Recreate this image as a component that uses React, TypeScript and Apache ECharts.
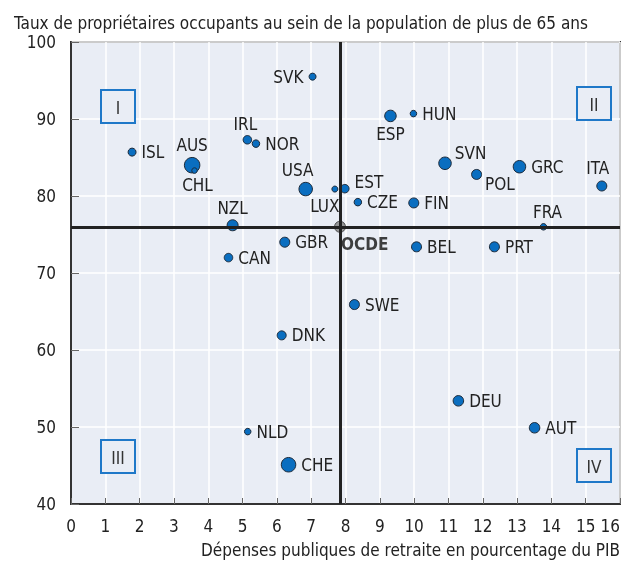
import React, { useEffect, useRef } from "react";
import * as echarts from "echarts";

const FONT = "'DejaVu Sans Condensed', 'Liberation Sans Narrow', sans-serif";
const FS = 17;

const countries = ["SVK", "ISL", "AUS", "CHL", "IRL", "NOR", "USA", "LUX", "NZL", "ESP", "HUN", "SVN", "POL", "GRC", "ITA", "EST", "CZE", "FIN", "FRA", "GBR", "CAN", "DNK", "BEL", "PRT", "SWE", "NLD", "CHE", "DEU", "AUT"];
const pensionSpending = [7.04, 1.78, 3.53, 3.6, 5.14, 5.39, 6.84, 7.69, 4.71, 9.31, 9.98, 10.9, 11.82, 13.07, 15.47, 7.98, 8.36, 9.99, 13.77, 6.23, 4.59, 6.14, 10.07, 12.34, 8.26, 5.15, 6.34, 11.29, 13.51];
const ownerRate = [95.5, 85.7, 84.0, 83.3, 87.3, 86.8, 80.9, 80.9, 76.2, 90.4, 90.7, 84.25, 82.8, 83.8, 81.3, 80.95, 79.2, 79.1, 76.0, 74.0, 72.0, 61.9, 73.4, 73.4, 65.9, 49.4, 45.1, 53.4, 49.9];
const bubbleWeight = [7, 8, 15.5, 5.5, 8.5, 7.5, 13.5, 6, 11, 11.5, 6.5, 12.5, 10, 12.5, 10, 8.5, 7.5, 10, 6.5, 10, 8.5, 9, 10, 10, 10, 6.5, 14.5, 10.5, 10.5];

const oecdName = "OCDE";
const oecdX = 7.84;
const oecdY = 76.0;

const xTicks = [0, 16, 1];
const yTicks = [40, 100, 10];

const titleText = "Taux de propriétaires occupants au sein de la population de plus de 65 ans";
const xTitle = "Dépenses publiques de retraite en pourcentage du PIB";
const quadrants = ["I", "II", "III", "IV"];

// label placement (layout only)
const labelLayout: Record<string, { position: string; offset?: [number, number]; distance?: number }> = {
  SVK: { position: "left" },
  AUS: { position: "top", distance: 3 },
  CHL: { position: "bottom", offset: [3, -2] },
  IRL: { position: "top", offset: [-2, 0], distance: 3 },
  USA: { position: "top", offset: [-8, 0], distance: 3 },
  LUX: { position: "bottom", offset: [-10, 0] },
  NZL: { position: "top", distance: 3 },
  ESP: { position: "bottom", distance: 3 },
  SVN: { position: "right", offset: [-2, -10] },
  POL: { position: "right", offset: [-2, 10] },
  ITA: { position: "top", offset: [-4, 0], distance: 4 },
  EST: { position: "right", offset: [0, -7] },
  FRA: { position: "top", offset: [4, 0], distance: 3 },
};

export default function App() {
  const ref = useRef<HTMLDivElement>(null);
  useEffect(() => {
    if (!ref.current) return;
    const chart = echarts.init(ref.current, undefined, { renderer: "svg" });

    const data = countries.map((c, i) => {
      const lay = labelLayout[c] || { position: "right" };
      return {
        name: c,
        value: [pensionSpending[i], ownerRate[i]],
        symbolSize: bubbleWeight[i],
        label: {
          show: true,
          formatter: c,
          position: lay.position,
          offset: lay.offset || [0, 0],
          distance: lay.distance ?? 5,
        },
      };
    });

    const boxes = [
      { t: quadrants[0], x: 101, y: 90 },
      { t: quadrants[1], x: 577, y: 87 },
      { t: quadrants[2], x: 101, y: 440 },
      { t: quadrants[3], x: 577, y: 449 },
    ];
    const W = 34, H = 33;

    chart.setOption({
      animation: false,
      textStyle: { fontFamily: FONT },
      title: {
        text: titleText,
        left: 9,
        top: 9,
        textStyle: { fontFamily: FONT, fontSize: FS, fontWeight: "normal", color: "#222" },
      },
      grid: {
        left: 71,
        top: 42,
        right: 1,
        bottom: 58,
        show: true,
        backgroundColor: "#e9edf5",
        borderColor: "#333",
        borderWidth: 2,
      },
      xAxis: {
        type: "value",
        min: xTicks[0],
        max: xTicks[1],
        interval: xTicks[2],
        axisLine: { show: true, onZero: false, lineStyle: { color: "#333", width: 2 } },
        axisTick: { show: true, inside: true, length: 6, lineStyle: { color: "#666" } },
        splitLine: { show: true, lineStyle: { color: "#ffffff", width: 1.5 } },
        axisLabel: { fontFamily: FONT, fontSize: FS, color: "#222", margin: 13, alignMaxLabel: "right" },
      },
      yAxis: {
        type: "value",
        min: yTicks[0],
        max: yTicks[1],
        interval: yTicks[2],
        axisLine: { show: true, onZero: false, lineStyle: { color: "#333", width: 2 } },
        axisTick: { show: true, inside: true, length: 8, lineStyle: { color: "#666" } },
        splitLine: { show: true, lineStyle: { color: "#ffffff", width: 1.5 } },
        axisLabel: { fontFamily: FONT, fontSize: FS, color: "#222", margin: 15 },
      },
      graphic: [
        {
          type: "text",
          right: 3,
          top: 541,
          style: { text: xTitle, font: `${FS}px ${FONT}`, fill: "#222" },
        },
        ...boxes.flatMap((b) => [
          {
            type: "polygon",
            z: 10,
            shape: { points: [[b.x, b.y], [b.x + W, b.y], [b.x + W, b.y + H], [b.x, b.y + H]] },
            style: { fill: "#e9edf5", stroke: "#1f78c8", lineWidth: 2 },
          },
          {
            type: "text",
            z: 11,
            x: b.x + W / 2,
            y: b.y + H / 2 + 1,
            style: { text: b.t, font: `${FS}px ${FONT}`, fill: "#333", align: "center", verticalAlign: "middle" },
          },
        ]),
      ],
      series: [
        {
          type: "scatter",
          name: "ref",
          data: [],
          z: 1,
          markLine: {
            silent: true,
            symbol: "none",
            label: { show: false },
            lineStyle: { color: "#222", width: 3, type: "solid" },
            data: [{ xAxis: oecdX }, { yAxis: oecdY }],
          },
        },
        {
          type: "scatter",
          z: 3,
          data,
          itemStyle: { color: "#0a6ec0", borderColor: "#1c2a3a", borderWidth: 1, opacity: 1 },
          label: { fontFamily: FONT, fontSize: FS, color: "#222" },
        },
        {
          type: "scatter",
          z: 4,
          data: [
            {
              name: oecdName,
              value: [oecdX, oecdY],
              symbolSize: 11,
              label: {
                show: true,
                formatter: oecdName,
                position: "right",
                offset: [-10, 17],
                fontWeight: "bold",
                fontFamily: FONT,
                fontSize: FS,
                color: "#111",
              },
            },
          ],
          itemStyle: { color: "#808080", borderColor: "#333", borderWidth: 1 },
        },
      ],
    });
    return () => chart.dispose();
  }, []);
  return <div ref={ref} style={{ position: "fixed", left: 0, top: 0, width: 623, height: 562 }} />;
}
